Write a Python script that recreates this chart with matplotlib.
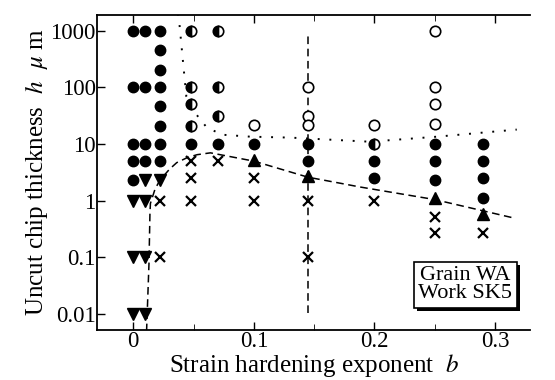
import numpy as np
import matplotlib
matplotlib.use('Agg')
from matplotlib import pyplot as plt
from matplotlib.patches import Rectangle

plt.rcParams['font.family'] = ['Liberation Serif', 'DejaVu Serif']
plt.rcParams['mathtext.fontset'] = 'stix'

# filled circles (b, h)
fill_b = [0, 0, 0, 0, 0,
          0.01, 0.01, 0.01, 0.01,
          0.022, 0.022, 0.022, 0.022, 0.022, 0.022, 0.022, 0.022,
          0.048, 0.07, 0.1, 0.145, 0.145,
          0.2, 0.2,
          0.25, 0.25, 0.25,
          0.29, 0.29, 0.29, 0.29]
fill_h = [1000, 100, 10, 5, 2.3,
          1000, 100, 10, 5,
          1000, 450, 200, 100, 47, 21, 10, 5,
          10, 10, 10, 10, 5,
          5, 2.5,
          10, 5, 2.3,
          10, 5, 2.5, 1.1]

# half filled circles
half_b = [0.048, 0.048, 0.048, 0.048, 0.07, 0.07, 0.07, 0.2]
half_h = [1000, 100, 50, 21, 1000, 100, 31, 10]

# open circles
open_b = [0.1, 0.145, 0.145, 0.145, 0.2, 0.25, 0.25, 0.25, 0.25]
open_h = [22, 100, 31, 22, 22, 1000, 100, 50, 23]

# filled up-triangles
tri_b = [0.1, 0.145, 0.25, 0.29]
tri_h = [5.3, 2.7, 1.1, 0.58]

# filled down-triangles
dtri_b = [0, 0, 0, 0.01, 0.01, 0.01, 0.01, 0.022]
dtri_h = [1, 0.1, 0.01, 2.3, 1, 0.1, 0.01, 2.3]

# crosses
x_b = [0.022, 0.022, 0.048, 0.048, 0.048, 0.07, 0.1, 0.1,
       0.145, 0.145, 0.2, 0.25, 0.25, 0.29]
x_h = [1, 0.1, 5, 2.5, 1, 5, 2.5, 1,
       1, 0.1, 1, 0.52, 0.27, 0.27]

# dashed boundary
dash_b = [0.011, 0.013, 0.0138, 0.0142, 0.018, 0.022, 0.03, 0.036, 0.045, 0.053,
          0.064, 0.072, 0.1, 0.145, 0.171, 0.188, 0.25, 0.315]
dash_h = [0.005, 0.078, 0.6, 0.9, 1.6, 2.3, 3.6, 4.7, 5.8, 6.5,
          7, 6.5, 5.0, 2.6, 2.05, 1.75, 1.05, 0.5]

# dotted boundary
dot_b = [0.037, 0.038, 0.041, 0.044, 0.051, 0.061, 0.074, 0.097, 0.13, 0.196, 0.252, 0.318]
dot_h = [2000, 1500, 316, 69, 36, 19.5, 14.6, 13.5, 13, 11, 13.5, 18]

# vertical dashed line
vline_b = 0.145
vline_h = [0.0105, 950]

fig = plt.figure(figsize=(5.55, 3.8), dpi=100)
ax = fig.add_axes([0.175, 0.132, 0.78, 0.829])

ax.plot(dash_b, dash_h, ls=(0, (5, 3)), color='black', lw=1.1, zorder=1)
ax.plot(dot_b, dot_h, ls=(0, (1, 5)), color='black', lw=1.4, zorder=1)
ax.plot([vline_b, vline_b], vline_h, ls=(0, (5, 3)), color='black', lw=1.1, zorder=1)

ms = 7.5
ax.plot(fill_b, fill_h, 'o', color='black', ms=ms, ls='none', zorder=3)
ax.plot(half_b, half_h, 'o', ms=ms, ls='none', markerfacecolor='black',
        markerfacecoloralt='white', fillstyle='left', markeredgecolor='black',
        markeredgewidth=1.2, zorder=3)
ax.plot(open_b, open_h, 'o', ms=ms, ls='none', markerfacecolor='white',
        markeredgecolor='black', markeredgewidth=1.2, zorder=3)
ax.plot(tri_b, tri_h, '^', color='black', ms=ms + 1, ls='none', zorder=3)
ax.plot(dtri_b, dtri_h, 'v', color='black', ms=ms + 1, ls='none', zorder=3)
ax.plot(x_b, x_h, 'x', color='black', ms=ms, mew=1.6, ls='none', zorder=3)

ax.set_yscale('log')
ax.set_ylim(0.0053, 1900)
ax.set_xlim(-0.03, 0.329)
ax.set_yticks([0.01, 0.1, 1, 10, 100, 1000])
ax.set_yticklabels(['0.01', '0.1', '1', '10', '100', '1000'])
ax.yaxis.set_minor_locator(matplotlib.ticker.NullLocator())
ax.set_xticks([0, 0.1, 0.2, 0.3])
ax.set_xticklabels(['0', '0.1', '0.2', '0.3'])
ax.set_xticks([0.05, 0.15, 0.25], minor=True)
ax.tick_params(axis='both', which='major', direction='in', length=6, width=1,
               labelsize=16.5, top=True)
ax.tick_params(axis='x', which='major', pad=1)
ax.tick_params(axis='x', which='minor', direction='in', length=4, top=True)
ax.tick_params(axis='y', left=True, right=False, pad=1)
for s in ['left', 'bottom', 'top']:
    ax.spines[s].set_linewidth(1.3)
ax.spines['right'].set_visible(False)

ax.set_xlabel('Strain hardening exponent  $b$', fontsize=18, labelpad=0)
ax.set_ylabel('Uncut chip thickness  $h$  $\\mu$ m', fontsize=18, labelpad=0)

# note box with drop shadow
note = ax.text(0.85, 0.143, 'Grain WA\nWork SK5', transform=ax.transAxes, fontsize=16,
               ha='center', va='center', linespacing=0.9,
               bbox=dict(boxstyle='square,pad=0.2', facecolor='white', edgecolor='black', lw=1.2),
               zorder=5)
fig.canvas.draw()
bb = note.get_bbox_patch().get_window_extent()
shadow = Rectangle((bb.x0 + 3, bb.y0 - 3), bb.width, bb.height, transform=None,
                   facecolor='black', edgecolor='none', zorder=4)
ax.add_patch(shadow)

fig.savefig('out.png', dpi=100)
